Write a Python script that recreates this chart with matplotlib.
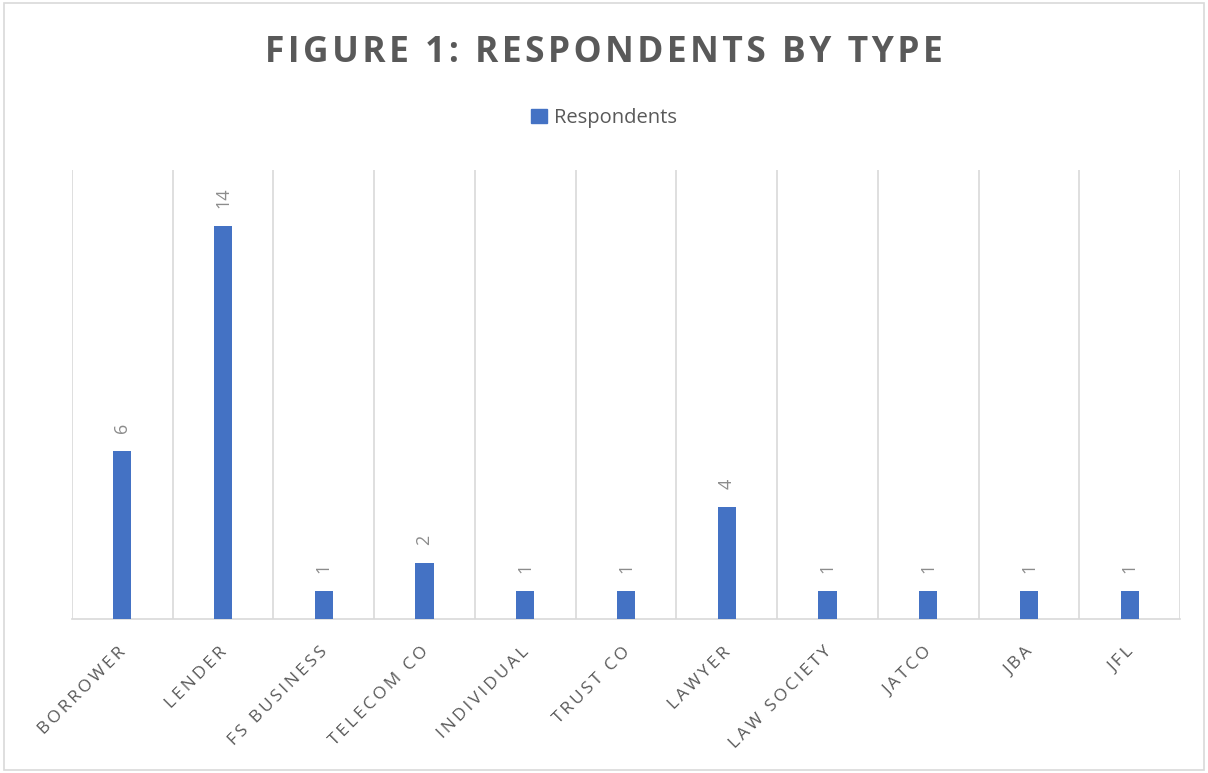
import matplotlib.pyplot as plt
import matplotlib.patches as mpatches

categories = ["BORROWER", "LENDER", "FS BUSINESS", "TELECOM CO", "INDIVIDUAL",
              "TRUST CO", "LAWYER", "LAW SOCIETY", "JATCO", "JBA", "JFL"]
respondents = [6, 14, 1, 2, 1, 1, 4, 1, 1, 1, 1]

BLUE = "#4472C4"
GRID = "#D9D9D9"
TEXT = "#595959"
FONT = ["Open Sans", "DejaVu Sans"]


def spaced(s, gap):
    """Widen the tracking of a label by putting a narrow space between letters."""
    return gap.join(s)


W, H = 1208, 773
fig = plt.figure(figsize=(W / 100, H / 100), dpi=100)
fig.patch.set_facecolor("white")

# outer chart frame
fig.add_artist(mpatches.Rectangle((4 / W, 3 / H), 1 - 8 / W, 1 - 6 / H,
                                  transform=fig.transFigure, fill=False,
                                  edgecolor=GRID, linewidth=1.2))

ax = fig.add_axes([72 / W, 1 - 619 / H, (1180 - 72) / W, (619 - 170) / H])
x = list(range(len(categories)))
bars = ax.bar(x, respondents, width=0.18, color=BLUE, zorder=3)

ax.set_xlim(-0.5, len(categories) - 0.5)
ax.set_ylim(0, 16)
ax.set_yticks([])

# vertical category separators
for b in range(len(categories) + 1):
    ax.axvline(b - 0.5, color=GRID, linewidth=1.2, zorder=1)

for s in ["top", "left", "right"]:
    ax.spines[s].set_visible(False)
ax.spines["bottom"].set_color(GRID)
ax.spines["bottom"].set_linewidth(1.2)

ax.set_xticks(x)
ax.set_xticklabels([])
ax.tick_params(axis="x", length=0)
for xi, lab in zip(x, categories):
    ax.annotate(spaced(lab, "\u2009"), xy=(xi, 0), xycoords="data",
                xytext=(-3, -18), textcoords="offset points",
                rotation=45, rotation_mode="anchor", ha="right", va="top",
                fontsize=12.5, color=TEXT, family=FONT)

for rect, v in zip(bars, respondents):
    ax.annotate(str(v), xy=(rect.get_x() + rect.get_width() / 2, v),
                xytext=(0, 13), textcoords="offset points",
                rotation=90, ha="center", va="bottom",
                fontsize=13, color="#8C8C8C", family=FONT)

fig.text(0.5, 1 - 53 / H, spaced("FIGURE 1: RESPONDENTS BY TYPE", "\u200a"),
         ha="center", va="center",
         fontsize=25.5, fontweight="bold", color=TEXT, family=FONT)

handle = mpatches.Patch(color=BLUE, label="Respondents")
fig.legend(handles=[handle], loc="center", bbox_to_anchor=(0.5, 1 - 118 / H),
           frameon=False, labelcolor=TEXT, prop={"family": FONT, "size": 14.5},
           handlelength=0.75, handleheight=0.75, handletextpad=0.35)

fig.savefig("out.png", dpi=100, facecolor="white")
